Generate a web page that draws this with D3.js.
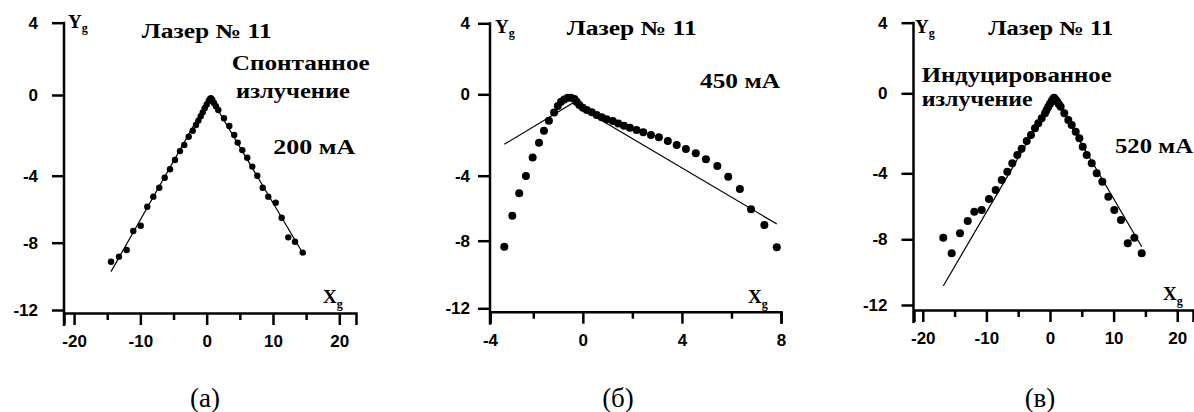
<!DOCTYPE html>
<html>
<head>
<meta charset="utf-8">
<script src="https://cdn.jsdelivr.net/npm/d3@7"></script>
<style>
  body { margin: 0; background: #fff; }
  svg { display: block; }
</style>
</head>
<body>
<div id="chart"></div>
<script>
// Yg tick values shared by the three panels
const yTicks = [4, 0, -4, -8, -12];

// (a) 200 mA, spontaneous emission
const aX = [-14.43, -13.23, -12.07, -11.07, -9.95, -8.96, -8.05, -7.15, -6.33, -5.53, -4.78, -4.03, -3.38, -2.71, -2.11, -1.61,
  -1.25, -0.9, -0.6, -0.3, 0.0, 0.3, 0.5, 0.65, 0.85, 1.1, 1.4,
  1.75, 2.61, 3.41, 4.16, 4.68, 5.37, 6.12, 6.88, 7.63, 8.45, 9.29, 10.41, 11.31, 12.31, 13.32, 14.48];
const aY = [-9.13, -8.83, -8.43, -7.30, -6.99, -5.85, -5.25, -4.72, -4.12, -3.68, -3.22, -2.78, -2.48, -2.07, -1.77, -1.49,
  -1.27, -1.05, -0.86, -0.66, -0.47, -0.3, -0.2, -0.16, -0.25, -0.4, -0.56,
  -0.74, -1.15, -1.54, -1.98, -2.36, -2.73, -3.11, -3.55, -4.0, -4.72, -5.25, -5.61, -6.51, -7.68, -7.94, -8.59];
const aFitX = [-14.43, 0.5, 14.57];
const aFitY = [-9.72, -0.08, -8.67];

// (б) 450 mA
const bX = [-3.34, -2.97, -2.65, -2.34, -2.03, -1.77, -1.57, -1.37, -1.16, -1.01, -0.88, -0.75, -0.61, -0.48, -0.34, -0.25,
  -0.14, 0.0, 0.16, 0.36, 0.56, 0.76, 0.96, 1.21, 1.43, 1.66, 1.90, 2.17, 2.44, 2.75, 3.07, 3.43, 3.79, 4.16, 4.56,
  4.97, 5.43, 5.87, 6.34, 6.79, 7.33, 7.83];
const bY = [-8.36, -6.46, -5.08, -4.02, -3.10, -2.38, -1.79, -1.30, -0.90, -0.57, -0.36, -0.25, -0.17, -0.17, -0.23, -0.36,
  -0.53, -0.66, -0.77, -0.88, -1.02, -1.13, -1.23, -1.31, -1.43, -1.54, -1.64, -1.75, -1.87, -2.0, -2.11, -2.29, -2.49, -2.69, -2.90,
  -3.19, -3.52, -4.06, -4.82, -6.07, -7.03, -8.39];
const bFitX = [-3.34, -0.42, 7.83];
const bFitY = [-2.46, -0.44, -6.97];

// (в) 520 mA, stimulated emission
const cX = [-16.78, -15.46, -14.15, -12.94, -11.90, -10.74, -9.59, -8.54, -7.59, -6.71, -5.93, -5.14, -4.46, -3.66, -2.99, -2.36,
  -1.84, -1.31, -0.79, -0.55, -0.27, 0.0, 0.27, 0.45, 0.63, 0.9, 1.15, 1.4, 1.68, 2.25, 2.88, 3.41, 4.04, 4.61, 5.14, 5.77,
  6.56, 7.34, 8.22, 9.17, 10.11, 11.16, 12.22, 13.26, 14.42];
const cY = [-7.90, -8.85, -7.64, -6.89, -6.33, -6.22, -5.56, -5.01, -4.41, -3.92, -3.50, -3.09, -2.77, -2.39, -2.09, -1.75,
  -1.50, -1.25, -1.0, -0.85, -0.67, -0.52, -0.39, -0.3, -0.22, -0.32, -0.42, -0.55, -0.67, -1.0, -1.34, -1.59, -1.92, -2.25, -2.67, -3.09,
  -3.50, -4.0, -4.51, -5.42, -6.22, -6.83, -8.24, -7.90, -8.85];
const cFitX = [-16.78, 0.63, 14.42];
const cFitY = [-10.84, -0.17, -8.45];

const titleText = "Лазер № 11";
const captions = ["(а)", "(б)", "(в)"];

const width = 1194, height = 412;
const svg = d3.select("#chart").append("svg")
  .attr("width", width).attr("height", height);

const panels = [
  {
    xs: aX, ys: aY, fitX: aFitX, fitY: aFitY, r: 3.2,
    axisX: 64, axisY: 313, yRange: [22.7, 95, 175.7, 242.7, 310], yPad: 14,
    x: d3.scaleLinear().domain([-21.52, 22.52]).range([64, 356]),
    xMajor: [-20, -10, 0, 10, 20], xMinor: [-15, -5, 5, 15],
    yg: [68, 28], xg: [323, 303], caption: 205,
    texts: [
      { t: titleText, x: 141.7, y: 38, w: 130 },
      { t: "Спонтанное", x: 231.7, y: 70, w: 138 },
      { t: "излучение", x: 236, y: 98, w: 114 },
      { t: "200 мА", x: 273.3, y: 154, w: 82 },
    ],
  },
  {
    xs: bX, ys: bY, fitX: bFitX, fitY: bFitY, r: 4,
    axisX: 490, axisY: 311.7, yRange: [23.3, 94.3, 175.7, 240.7, 308.3], yPad: 8,
    x: d3.scaleLinear().domain([-4, -2, 8]).range([490, 533.3, 781]),
    xMajor: [-4, 0, 4, 8], xMinor: [-2, 2, 6],
    yg: [495, 33], xg: [748, 303], caption: 618,
    texts: [
      { t: titleText, x: 566.7, y: 35, w: 130 },
      { t: "450 мА", x: 700, y: 88, w: 80 },
    ],
  },
  {
    xs: cX, ys: cY, fitX: cFitX, fitY: cFitY, r: 4,
    axisX: 913.5, axisY: 310, yRange: [22.7, 93.3, 173.3, 239.3, 305], yPad: 14,
    x: d3.scaleLinear().domain([-21.38, 22.48]).range([914, 1193]),
    xMajor: [-20, -10, 0, 10, 20], xMinor: [-15, -5, 5, 15],
    yg: [915, 33], xg: [1163, 300], caption: 1040,
    texts: [
      { t: titleText, x: 988.3, y: 35, w: 125 },
      { t: "Индуцированное", x: 921.7, y: 82, w: 190 },
      { t: "излучение", x: 921.7, y: 106, w: 111 },
      { t: "520 мА", x: 1115, y: 153, w: 78 },
    ],
  },
];

function styleAxis(g) {
  g.attr("font-family", "'Liberation Sans', Arial, sans-serif")
    .attr("font-size", 17)
    .attr("font-weight", "bold");
  g.selectAll("line, path").attr("stroke", "#000").attr("stroke-width", 2.5);
}

panels.forEach((p) => {
  const y = d3.scaleLinear().domain(yTicks).range(p.yRange);
  const x = p.x;

  // y axis: ticks + its own line reaching below the x axis
  svg.append("g")
    .attr("transform", `translate(${p.axisX},0)`)
    .call(d3.axisLeft(y).tickValues(yTicks).tickSize(12).tickSizeOuter(0)
      .tickPadding(p.yPad).tickFormat((d) => String(d)))
    .call(styleAxis)
    .call((g) => g.select(".domain").remove());
  svg.append("line")
    .attr("x1", p.axisX).attr("x2", p.axisX)
    .attr("y1", p.yRange[0] - 1).attr("y2", p.axisY + 13)
    .attr("stroke", "#000").attr("stroke-width", 2.5);

  // x axis: long labelled ticks + short minor ticks
  svg.append("g")
    .attr("transform", `translate(0,${p.axisY})`)
    .call(d3.axisBottom(x).tickValues(p.xMajor).tickSize(12).tickSizeOuter(12)
      .tickPadding(10).tickFormat((d) => String(d)))
    .call(styleAxis);
  svg.append("g")
    .attr("transform", `translate(0,${p.axisY})`)
    .call(d3.axisBottom(x).tickValues(p.xMinor).tickSize(7).tickFormat(""))
    .call(styleAxis)
    .call((g) => g.select(".domain").remove());

  // fitted line
  const pts = p.fitX.map((v, i) => [v, p.fitY[i]]);
  svg.append("path")
    .attr("d", d3.line().x((d) => x(d[0])).y((d) => y(d[1]))(pts))
    .attr("fill", "none").attr("stroke", "#000").attr("stroke-width", 1.2);

  // measured points
  svg.append("g").selectAll("circle")
    .data(p.xs.map((v, i) => [v, p.ys[i]]))
    .join("circle")
    .attr("cx", (d) => x(d[0]))
    .attr("cy", (d) => y(d[1]))
    .attr("r", p.r)
    .attr("fill", "#000");

  // axis names
  const yg = svg.append("text")
    .attr("x", p.yg[0]).attr("y", p.yg[1])
    .attr("font-family", "'Liberation Serif', 'Times New Roman', serif")
    .attr("font-weight", "bold").attr("font-size", 19);
  yg.append("tspan").text("Y");
  yg.append("tspan").attr("dy", 4).attr("font-size", 12).text("g");

  const xg = svg.append("text")
    .attr("x", p.xg[0]).attr("y", p.xg[1])
    .attr("font-family", "'Liberation Serif', 'Times New Roman', serif")
    .attr("font-weight", "bold").attr("font-size", 19);
  xg.append("tspan").text("X");
  xg.append("tspan").attr("dy", 5).attr("font-size", 12).text("g");

  // annotations
  p.texts.forEach((d) => {
    svg.append("text")
      .attr("x", d.x).attr("y", d.y)
      .attr("textLength", d.w).attr("lengthAdjust", "spacingAndGlyphs")
      .attr("font-family", "'Liberation Serif', 'Times New Roman', serif")
      .attr("font-weight", "bold").attr("font-size", 20)
      .text(d.t);
  });
});

// panel captions
panels.forEach((p, i) => {
  svg.append("text")
    .attr("x", p.caption).attr("y", 407)
    .attr("text-anchor", "middle")
    .attr("font-family", "'Liberation Serif', 'Times New Roman', serif")
    .attr("font-size", 27)
    .text(captions[i]);
});
</script>
</body>
</html>
